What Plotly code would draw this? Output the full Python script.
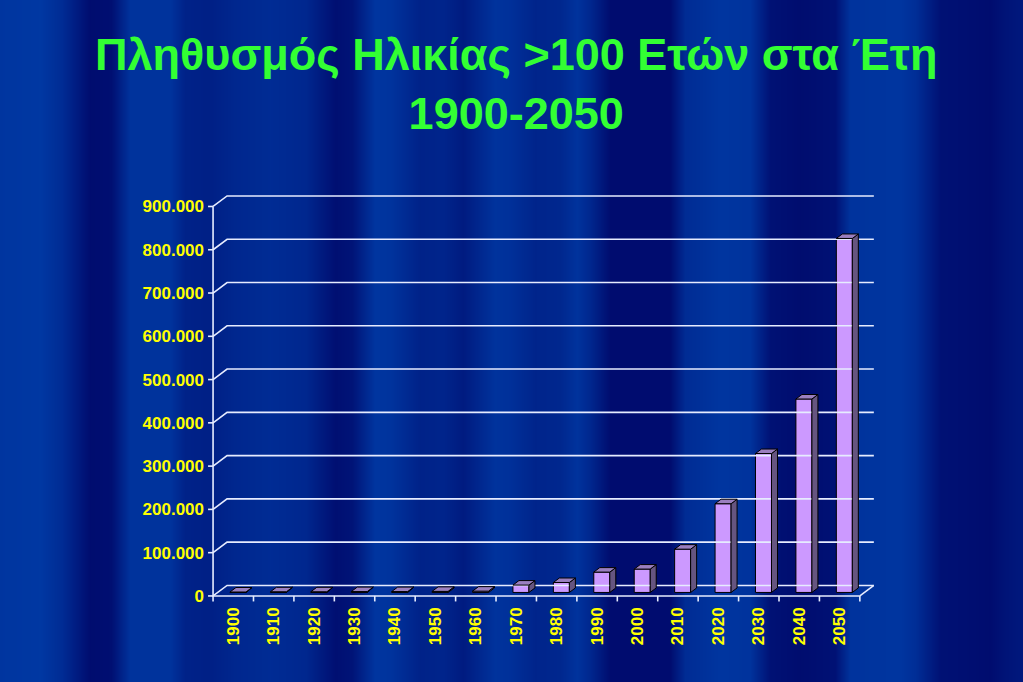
import zlib, struct, base64
import plotly.graph_objects as go

# ---------------- data ----------------
years = ["1900", "1910", "1920", "1930", "1940", "1950", "1960", "1970",
         "1980", "1990", "2000", "2010", "2020", "2030", "2040", "2050"]
values = [1000, 1500, 1500, 2000, 2000, 2500, 3000, 17000,
          23000, 47000, 54000, 100000, 205000, 321000, 447000, 818000]
y_ticks = [0, 100000, 200000, 300000, 400000, 500000, 600000, 700000, 800000, 900000]
y_ticktext = ["0", "100.000", "200.000", "300.000", "400.000", "500.000",
              "600.000", "700.000", "800.000", "900.000"]
title_text = "Πληθυσμός Ηλικίας >100 Ετών στα Έτη<br>1900-2050"

# ---------------- geometry / style ----------------
W, H = 1023, 682
ML, MR, MT, MB = 207, 149, 187, 80
XR = [-0.65, 15.85]
YR = [-14000, 945000]
pw, ph = W - ML - MR, H - MT - MB
upx = (XR[1] - XR[0]) / pw          # data units per px (x)
vpx = (YR[1] - YR[0]) / ph          # data units per px (y)

wall_dx, wall_dy = 14 * upx, 10.5 * vpx
bar_off_x, bar_off_y = 4.7 * upx, 3.5 * vpx
bar_w = 16 * upx
bar_dx, bar_dy = 6 * upx, 4.5 * vpx

FRONT = "#cc99ff"
SIDE = "#665580"
TOP = "#9a7fbf"
GRID = "#e6ecff"
YELLOW = "#ffff00"
GREEN = "#33ff33"

# ---------------- background curtain image ----------------
keys = [(0, 0.9), (40, 0.95), (62, 0.7), (90, 0.05), (111, 0.1), (130, 0.85),
        (170, 0.85), (185, 0.5), (210, 0.45), (235, 0.6), (270, 0.7), (306, 0.6),
        (335, 0.1), (352, 0.2), (375, 0.9), (391, 0.85), (420, 0.5), (443, 0.55),
        (463, 0.35), (495, 0.85), (509, 0.8), (535, 0.55), (560, 0.6), (577, 0.85),
        (590, 0.6), (610, 0.05), (670, 0.05), (685, 0.7), (720, 0.9), (750, 0.85),
        (770, 0.15), (800, 0.05), (835, 0.15), (850, 0.85), (900, 0.9), (915, 0.75),
        (940, 0.15), (990, 0.05), (1005, 0.2), (1023, 0.3)]
dark, light = (0, 10, 108), (0, 58, 165)


def lvl(x):
    for (x0, l0), (x1, l1) in zip(keys[:-1], keys[1:]):
        if x0 <= x <= x1:
            t = (x - x0) / (x1 - x0) if x1 > x0 else 0
            return l0 + (l1 - l0) * t
    return keys[-1][1]


row = bytearray()
for px in range(W):
    l = lvl(px)
    for c in range(3):
        row.append(int(round(dark[c] + (light[c] - dark[c]) * l)))
raw = b"\x00" + bytes(row)


def chunk(tag, data):
    c = struct.pack(">I", len(data)) + tag + data
    return c + struct.pack(">I", zlib.crc32(tag + data) & 0xffffffff)


png = (b"\x89PNG\r\n\x1a\n" + chunk(b"IHDR", struct.pack(">IIBBBBB", W, 1, 8, 2, 0, 0, 0))
       + chunk(b"IDAT", zlib.compress(raw)) + chunk(b"IEND", b""))
bg_uri = "data:image/png;base64," + base64.b64encode(png).decode()

# ---------------- figure ----------------
fig = go.Figure()
n = len(years)
xs = list(range(n))

# back wall gridlines + left diagonals + floor
gx, gy = [], []
for v in y_ticks:
    gx += [-0.5, -0.5 + wall_dx, n - 0.5 + wall_dx, None]
    gy += [v, v + wall_dy, v + wall_dy, None]
gx += [n - 0.5, n - 0.5 + wall_dx, None]
gy += [0, wall_dy, None]
fig.add_trace(go.Scatter(x=gx, y=gy, mode="lines", line=dict(color=GRID, width=1.6),
                         hoverinfo="skip", showlegend=False))

# front axes with ticks
ax, ay = [-0.5, -0.5, n - 0.5, None], [y_ticks[-1], 0, 0, None]
for v in y_ticks:
    ax += [-0.5 - 5 * upx, -0.5, None]
    ay += [v, v, None]
for k in range(n + 1):
    ax += [k - 0.5, k - 0.5, None]
    ay += [0, -5.5 * vpx, None]
fig.add_trace(go.Scatter(x=ax, y=ay, mode="lines", line=dict(color=GRID, width=1.6),
                         hoverinfo="skip", showlegend=False))

# bar front faces
fig.add_trace(go.Bar(x=[i + bar_off_x for i in xs], y=values, base=bar_off_y, width=bar_w,
                     marker=dict(color=FRONT, line=dict(color="black", width=1)),
                     hoverinfo="skip", showlegend=False))

# side and top faces
for i, v in zip(xs, values):
    x0 = i + bar_off_x - bar_w / 2
    x1 = i + bar_off_x + bar_w / 2
    yb, yt = bar_off_y, v + bar_off_y
    fig.add_trace(go.Scatter(x=[x1, x1 + bar_dx, x1 + bar_dx, x1, x1],
                             y=[yb, yb + bar_dy, yt + bar_dy, yt, yb],
                             mode="lines", fill="toself", fillcolor=SIDE,
                             line=dict(color="black", width=1), hoverinfo="skip", showlegend=False))
    fig.add_trace(go.Scatter(x=[x0, x1, x1 + bar_dx, x0 + bar_dx, x0],
                             y=[yt, yt, yt + bar_dy, yt + bar_dy, yt],
                             mode="lines", fill="toself", fillcolor=TOP,
                             line=dict(color="black", width=1), hoverinfo="skip", showlegend=False))

tick_font = dict(family="Liberation Sans, Arial, sans-serif", size=17, color=YELLOW, weight="bold")
fig.update_layout(
    width=W, height=H,
    margin=dict(l=ML, r=MR, t=MT, b=MB, pad=0),
    paper_bgcolor="#00206e", plot_bgcolor="rgba(0,0,0,0)",
    xaxis=dict(range=XR, showgrid=False, zeroline=False, showline=False, ticks="",
               tickmode="array", tickvals=xs, ticktext=years, tickangle=-90,
               tickfont=tick_font, ticklabelstandoff=1, fixedrange=True),
    yaxis=dict(range=YR, showgrid=False, zeroline=False, showline=False, ticks="",
               tickmode="array", tickvals=y_ticks, ticktext=y_ticktext,
               tickfont=tick_font, ticklabelstandoff=2, fixedrange=True),
    images=[dict(source=bg_uri, xref="paper", yref="paper",
                 x=-ML / pw, y=1 + MT / ph, sizex=W / pw, sizey=H / ph,
                 sizing="stretch", xanchor="left", yanchor="top", layer="below")],
    annotations=[dict(text=title_text, xref="paper", yref="paper",
                      x=(516 - ML) / pw, y=1 + (MT - 27) / ph, xanchor="center", yanchor="top",
                      showarrow=False, align="center",
                      font=dict(family="Liberation Sans, Arial, sans-serif", size=45,
                                color=GREEN, weight="bold"))],
    showlegend=False,
)

fig.write_html("out.html", config={"displayModeBar": False},
               post_script="document.body.style.margin='0';document.body.style.overflow='hidden';")
